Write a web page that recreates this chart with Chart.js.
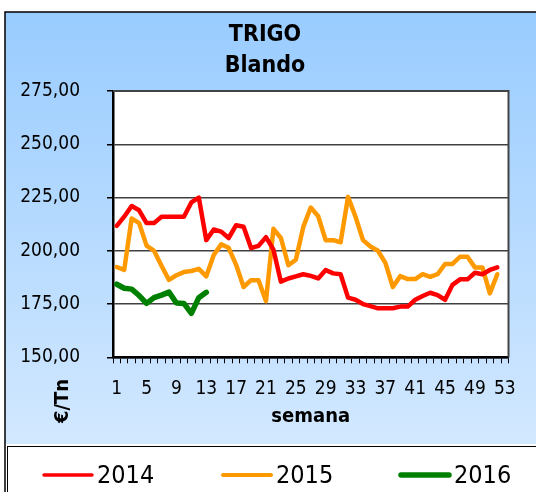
<!DOCTYPE html>
<html>
<head>
<meta charset="utf-8">
<script src="https://cdn.jsdelivr.net/npm/chart.js@4.4.1/dist/chart.umd.min.js"></script>
<style>
  html, body { margin: 0; padding: 0; background: #fff; }
  #wrap { width: 536px; height: 492px; }
</style>
</head>
<body>
<div id="wrap"><canvas id="trigoChart" width="536" height="492"></canvas></div>
<script>
// Precio semanal trigo blando (€/Tn)
const weeks = [1, 2, 3, 4, 5, 6, 7, 8, 9, 10, 11, 12, 13, 14, 15, 16, 17, 18, 19, 20,
    21, 22, 23, 24, 25, 26, 27, 28, 29, 30, 31, 32, 33, 34, 35, 36, 37, 38, 39, 40,
    41, 42, 43, 44, 45, 46, 47, 48, 49, 50, 51, 52, 53];
const xTickLabels = [1, 5, 9, 13, 17, 21, 25, 29, 33, 37, 41, 45, 49, 53];
const yTickValues = [150, 175, 200, 225, 250, 275];

const price2014 = [211.7, 216, 221, 219, 213, 213, 216, 216, 216, 216,
    222.7, 225, 205, 210, 209, 206, 212, 211.3, 201.3, 202.3,
    206.4, 200.5, 185.5, 187, 188, 189, 188.2, 187, 191, 189.4,
    189, 178, 177, 175, 174, 173, 173, 173, 173.8, 173.8,
    177, 178.8, 180.3, 179.2, 177, 184, 186.6, 186.6, 189.7, 189,
    191, 192.2];
const price2015 = [192.4, 191, 215.2, 213, 202.4, 200, 193, 186.3, 188.5, 190,
    190.5, 191.5, 188, 198, 203, 201.4, 193.4, 183, 186.2, 186.2,
    176.4, 210.3, 206, 193.2, 195.8, 211.2, 220.3, 216.2, 205, 205,
    204, 225.3, 216, 205, 202, 200, 194.3, 183, 188.1, 186.7,
    186.7, 189, 187.8, 189, 193.8, 193.8, 197.2, 197.2, 192.2, 192.2,
    180, 189];
const price2016 = [184.3, 182.4, 182, 179, 175.3, 178, 179.2, 180.6, 175.5, 175.3,
    170.6, 178, 180.5];

const FONT = "'DejaVu Sans Condensed', 'DejaVu Sans', sans-serif";

// Fondo, titulos y leyenda dibujados a mano (estilo hoja Excel)
const decorPlugin = {
    id: 'decor',
    beforeDraw(chart) {
        const { ctx, chartArea: a } = chart;
        ctx.save();
        ctx.fillStyle = '#fff';
        ctx.fillRect(0, 0, chart.width, chart.height);

        const grad = ctx.createLinearGradient(0, 12, 0, 444);
        grad.addColorStop(0, '#99ccff');
        grad.addColorStop(1, '#d2e8ff');
        ctx.fillStyle = grad;
        ctx.fillRect(5, 12, chart.width, 432);

        ctx.strokeStyle = '#000';
        ctx.lineWidth = 1.5;
        ctx.strokeRect(5, 12, chart.width + 10, chart.height + 10);

        ctx.fillStyle = '#fff';
        ctx.fillRect(8, 447, chart.width, 60);
        ctx.lineWidth = 1;
        ctx.strokeRect(7.5, 446.5, chart.width + 10, 60);

        ctx.fillStyle = '#fff';
        ctx.fillRect(a.left, a.top, a.right - a.left, a.bottom - a.top);
        ctx.restore();
    },
    afterDraw(chart) {
        const { ctx, chartArea: a } = chart;
        ctx.save();

        // borde superior y derecho del area de trazado
        ctx.strokeStyle = '#444';
        ctx.lineWidth = 2;
        ctx.beginPath();
        ctx.moveTo(a.left, a.top);
        ctx.lineTo(a.right, a.top);
        ctx.lineTo(a.right, a.bottom);
        ctx.stroke();

        ctx.fillStyle = '#000';
        ctx.textAlign = 'center';
        ctx.textBaseline = 'middle';
        ctx.font = "bold 23px " + FONT;
        ctx.fillText('TRIGO', 265, 35);
        ctx.fillText('Blando', 265, 66);

        ctx.font = "bold 20px " + FONT;
        ctx.textBaseline = 'alphabetic';
        ctx.fillText('semana', (a.left + a.right) / 2, 422);

        ctx.save();
        ctx.translate(68, 401);
        ctx.rotate(-Math.PI / 2);
        ctx.fillText('€/Tn', 0, 0);
        ctx.restore();

        // leyenda
        const legendX = [44, 223, 401];
        const legendWidths = [3.5, 4, 5.5];
        ctx.font = "25px " + FONT;
        ctx.textAlign = 'left';
        ctx.textBaseline = 'middle';
        chart.data.datasets.forEach((ds, i) => {
            ctx.strokeStyle = ds.borderColor;
            ctx.lineWidth = legendWidths[i];
            ctx.lineCap = 'round';
            ctx.beginPath();
            ctx.moveTo(legendX[i], 475);
            ctx.lineTo(legendX[i] + 48, 475);
            ctx.stroke();
            ctx.fillStyle = '#000';
            ctx.fillText(ds.label, legendX[i] + 53, 476);
        });
        ctx.restore();
    }
};

const ctx = document.getElementById('trigoChart');
window.trigoChart = new Chart(ctx, {
    type: 'line',
    data: {
        labels: weeks,
        datasets: [{
            label: '2014',
            data: price2014,
            borderColor: '#ff0000',
            borderWidth: 4.5
        }, {
            label: '2015',
            data: price2015,
            borderColor: '#ff9900',
            borderWidth: 4.5
        }, {
            label: '2016',
            data: price2016,
            borderColor: '#008000',
            borderWidth: 5.5
        }]
    },
    options: {
        responsive: false,
        animation: false,
        devicePixelRatio: 1,
        layout: {
            padding: { top: 91, right: 27.5, left: 0, bottom: 0 }
        },
        elements: {
            point: { radius: 0 },
            line: { tension: 0, borderJoinStyle: 'round', borderCapStyle: 'round' }
        },
        plugins: {
            legend: { display: false },
            title: { display: false },
            tooltip: { enabled: false }
        },
        scales: {
            x: {
                offset: true,
                grid: {
                    offset: true,
                    drawOnChartArea: false,
                    tickLength: 6,
                    color: '#000',
                    lineWidth: 1
                },
                border: { color: '#000', width: 2.5 },
                ticks: {
                    autoSkip: false,
                    maxRotation: 0,
                    padding: 14,
                    color: '#000',
                    font: { family: FONT, size: 19 },
                    callback: function(value, index) {
                        const w = weeks[index];
                        return xTickLabels.includes(w) ? String(w) : '';
                    }
                },
                afterFit: function(scale) { scale.height = 492 - 357.3; }
            },
            y: {
                min: 150,
                max: 275,
                grid: {
                    color: '#404040',
                    lineWidth: 1.5,
                    tickLength: 6,
                    tickColor: '#000',
                    tickWidth: 1.5
                },
                border: { color: '#000', width: 2.5 },
                ticks: {
                    padding: 27,
                    color: '#000',
                    font: { family: FONT, size: 19 },
                    callback: function(value) {
                        return value.toFixed(2).replace('.', ',');
                    }
                },
                afterBuildTicks: function(scale) {
                    scale.ticks = yTickValues.map(v => ({ value: v }));
                },
                afterFit: function(scale) { scale.width = 113; }
            }
        }
    },
    plugins: [decorPlugin]
});
</script>
</body>
</html>
